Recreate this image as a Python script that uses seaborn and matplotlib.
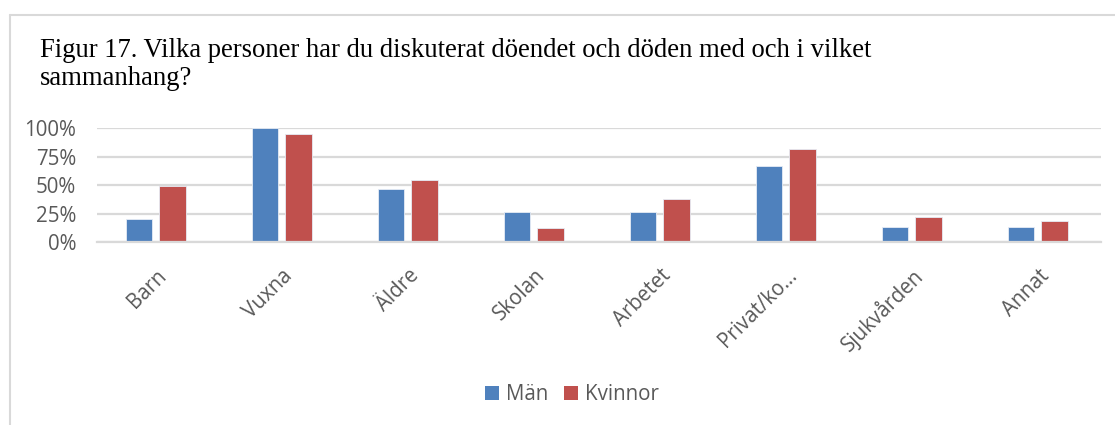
import pandas as pd
import seaborn as sns
import matplotlib.pyplot as plt
from matplotlib.patches import Patch
from matplotlib.lines import Line2D
from matplotlib.transforms import ScaledTranslation

categories = ["Barn", "Vuxna", "Äldre", "Skolan", "Arbetet", "Privat/ko…", "Sjukvården", "Annat"]
man = [0.20, 1.00, 0.467, 0.267, 0.267, 0.667, 0.133, 0.133]
kvinnor = [0.49, 0.95, 0.54, 0.12, 0.38, 0.82, 0.22, 0.18]
series = ["Män", "Kvinnor"]
colors = ["#4F81BD", "#C0504D"]
yticks = [0, 0.25, 0.5, 0.75, 1.0]
ytick_labels = ["0%", "25%", "50%", "75%", "100%"]
title_1 = "Figur 17. Vilka personer har du diskuterat döendet och döden med och i vilket"
title_2 = "sammanhang?"

df = pd.DataFrame({
    "Kategori": categories * 2,
    "Andel": man + kvinnor,
    "Kön": [series[0]] * len(categories) + [series[1]] * len(categories),
})

sns.set_style("white")
plt.rcParams["font.family"] = ["Open Sans", "DejaVu Sans"]

W, H = 1115, 425
fig = plt.figure(figsize=(W / 100, H / 100), dpi=100)
ax = fig.add_axes([97 / W, 1 - 242 / H, (1101 - 97) / W, (242 - 128) / H])

sns.barplot(data=df, x="Kategori", y="Andel", hue="Kön", palette=colors,
            width=0.53, gap=0.21, legend=False, ax=ax, saturation=1,
            edgecolor="#e6ecf5", linewidth=0.6)

grid_col = "#D9D9D9"
txt_col = "#595959"
ax.set_ylim(0, 1)
ax.set_xlim(-0.465, len(categories) - 0.5)
ax.set_yticks(yticks)
ax.set_yticklabels(ytick_labels)
ax.yaxis.grid(True, color=grid_col, linewidth=1.6)
ax.set_axisbelow(True)
for s in ["top", "right", "left"]:
    ax.spines[s].set_visible(False)
ax.spines["bottom"].set_color(grid_col)
ax.spines["bottom"].set_linewidth(1.6)
ax.set_xlabel("")
ax.set_ylabel("")
ax.tick_params(axis="y", length=0, pad=15, labelsize=14.8, labelcolor=txt_col)
ax.tick_params(axis="x", length=0, pad=22, labelsize=14.8, labelcolor=txt_col)
offset = ScaledTranslation(8 / 100, 0, fig.dpi_scale_trans)
for lab in ax.get_xticklabels():
    lab.set_rotation(45)
    lab.set_ha("right")
    lab.set_va("center")
    lab.set_rotation_mode("anchor")
    lab.set_transform(lab.get_transform() + offset)

fig.text(40 / W, 1 - 57 / H, title_1, family="Liberation Serif", fontsize=19.2,
         va="baseline", ha="left", color="black")
fig.text(40 / W, 1 - 85 / H, title_2, family="Liberation Serif", fontsize=19.2,
         va="baseline", ha="left", color="black")

handles = [Patch(facecolor=c, edgecolor="none", label=l) for c, l in zip(colors, series)]
fig.legend(handles=handles, loc="center", bbox_to_anchor=(572 / W, 1 - 395 / H),
           ncol=2, frameon=False, fontsize=14.8, labelcolor=txt_col,
           handlelength=0.65, handleheight=0.65, handletextpad=0.35, columnspacing=0.8)

# chart border
fig.add_artist(Line2D([10 / W, 10 / W], [0, 1 - 15 / H], color=grid_col, linewidth=1.5))
fig.add_artist(Line2D([10 / W, 1], [1 - 15 / H, 1 - 15 / H], color=grid_col, linewidth=1.5))

fig.savefig("out.png", dpi=100, facecolor="white")
